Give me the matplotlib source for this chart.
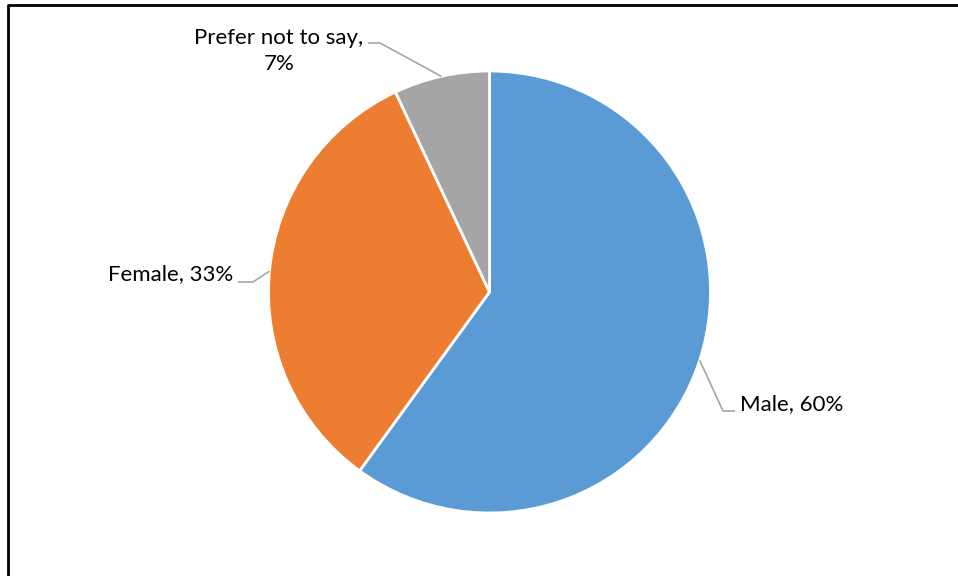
import numpy as np
import matplotlib.pyplot as plt

# data
categories = ['Male', 'Female', 'Prefer not to say']
shares = [60, 33, 7]
colors = ['#5B9BD5', '#ED7D31', '#A5A5A5']

W, H = 958, 576
cx, cy, r = 489.5, H - 292, 221

fig = plt.figure(figsize=(W / 100, H / 100), dpi=100)
ax = fig.add_axes([0, 0, 1, 1])
ax.set_xlim(0, W)
ax.set_ylim(0, H)
ax.set_aspect('equal')
ax.axis('off')

wedges, _ = ax.pie(shares, colors=colors, startangle=90, counterclock=False,
                   center=(cx, cy), radius=r,
                   wedgeprops=dict(edgecolor='white', linewidth=2))
ax.set_xlim(0, W)
ax.set_ylim(0, H)

# label layout: (elbow x, elbow y, end x, text x, text y, ha, text)
layout = [
    (723, H - 411, 735, 740, H - 404, 'left', '{}, {}%'),
    (253, H - 282, 238, 233, H - 274, 'right', '{}, {}%'),
    (380, H - 43, 368, 279, H - 51, 'center', '{},\n{}%'),
]

leader = '#A6A6A6'
for w, cat, val, (ex, ey, hx, tx, ty, ha, fmt) in zip(wedges, categories, shares, layout):
    mid = np.deg2rad((w.theta1 + w.theta2) / 2)
    px, py = cx + r * np.cos(mid), cy + r * np.sin(mid)
    ax.plot([px, ex, hx], [py, ey, ey], color=leader, lw=1.2, solid_capstyle='butt')
    ax.text(tx, ty, fmt.format(cat, val), ha=ha, va='center', fontsize=16,
            family='Lato', color='black', linespacing=1.32)

# frame of the chart area (cropped)
ax.plot([8.5, 8.5, W], [0, H - 4.5, H - 4.5], color='black', lw=2, clip_on=False)

fig.savefig('out.png', dpi=100)
